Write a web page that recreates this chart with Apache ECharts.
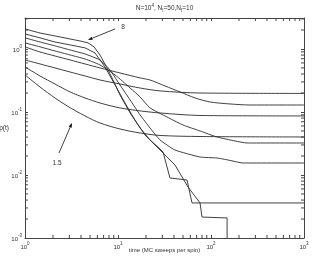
<!DOCTYPE html>
<html><head><meta charset="utf-8">
<script src="https://cdn.jsdelivr.net/npm/echarts@6/dist/echarts.min.js"></script>
<style>html,body{margin:0;padding:0;background:#fff}#c{width:312px;height:257px}</style>
</head><body><div id="c"></div>
<script>
// ---- axis ticks ----
const xTicks = [1, 10, 100, 1000];
const yTicks = [0.001, 0.01, 0.1, 1];
const xMin = 1, xMax = 1000, yMin = 0.001, yMax = 3.1;
const minorMult = [2, 3, 4, 5, 6, 7, 8, 9];

// ---- curves (time, rho) ----
const t15 = [1, 1.45, 2.1, 2.83, 4.42, 6.4, 10.5, 17.3, 28.3, 76.2, 1000];
const r15 = [0.387, 0.249, 0.167, 0.125, 0.0865, 0.0669, 0.0537, 0.0464, 0.0424, 0.0408, 0.0401];
const t2 = [1, 1.45, 2.1, 3.05, 4.42, 6.4, 10.5, 17.3, 28.3, 76.2, 1000];
const r2 = [0.518, 0.373, 0.278, 0.208, 0.167, 0.139, 0.116, 0.104, 0.0964, 0.088, 0.0865];
const t3 = [1, 1.45, 2.1, 3.05, 4.42, 6.4, 10.5, 17.3, 28.3, 76.2, 1000];
const r3 = [0.669, 0.578, 0.5, 0.431, 0.373, 0.322, 0.278, 0.24, 0.216, 0.2, 0.197];
const t4 = [1, 1.45, 2.1, 3.05, 4.42, 6.4, 10.5, 17.3, 22.1, 32, 46.4, 67.3, 97.5, 160, 263, 1000];
const r4 = [1.08, 0.896, 0.774, 0.669, 0.578, 0.5, 0.416, 0.347, 0.322, 0.259, 0.208, 0.167, 0.144, 0.134, 0.129, 0.129];
const t5 = [1, 1.45, 2.1, 3.05, 4.42, 6.4, 9.3, 13.5, 17.3, 22.1, 32, 50, 76.2, 116, 181, 244, 1000];
const r5 = [1.25, 1.08, 0.93, 0.803, 0.694, 0.557, 0.387, 0.24, 0.173, 0.116, 0.0865, 0.0622, 0.05, 0.0401, 0.0347, 0.0322, 0.0322];
const t6 = [1, 1.45, 2.1, 3.05, 4.42, 6.4, 8.2, 10.5, 13.5, 17.3, 22.1, 28.3, 41, 76.2, 116, 152, 221, 1000];
const r6 = [1.5, 1.29, 1.12, 0.964, 0.833, 0.669, 0.464, 0.268, 0.155, 0.0896, 0.0557, 0.036, 0.0249, 0.0193, 0.0186, 0.0173, 0.0155, 0.0155];
const t7 = [1, 1.45, 2.1, 3.05, 4.42, 5.66, 7.25, 9.3, 11.9, 15.2, 19.5, 25, 32, 41, 56.6, 76.2, 80, 149, 149];
const r7 = [1.73, 1.5, 1.29, 1.16, 1.04, 0.865, 0.518, 0.268, 0.139, 0.0746, 0.0431, 0.0299, 0.0208, 0.0144, 0.00645, 0.0036, 0.00215, 0.00208, 0.0001];
const t8 = [1, 1.45, 2.1, 3.05, 3.9, 4.76, 5.52, 6.4, 7.43, 8.62, 10.5, 13.5, 17.3, 22.1, 26.9, 30.5, 36.2, 55.2, 62.5, 1000];
const r8 = [2.08, 1.79, 1.61, 1.44, 1.34, 1.25, 1.08, 0.803, 0.537, 0.347, 0.186, 0.0964, 0.0557, 0.036, 0.0278, 0.0232, 0.00896, 0.00833, 0.0036, 0.0036];

const curveNames = ['1.5', '2', '3', '4', '5', '6', '7', '8'];
const curveT = [t15, t2, t3, t4, t5, t6, t7, t8];
const curveR = [r15, r2, r3, r4, r5, r6, r7, r8];
const curveSmooth = [0.3, 0.3, 0.3, 0.25, 0.2, 0.15, false, false];

// ---- annotations ----
const annotText = ['8', '1.5'];
const annotTextT = [11.3, 2.21];
const annotTextR = [2.23, 0.0155];
const arrowFromT = [9.3, 2.32];
const arrowFromR = [2.08, 0.0223];
const arrowToT = [4.76, 3.2];
const arrowToR = [1.39, 0.0669];

const FONT = 'Liberation Sans, Arial, Helvetica, sans-serif';
const INK = '#2b2b2b';
const AX = '#444';

function powLabel(v) {
  const l = Math.log10(v);
  const e = Math.round(l);
  if (Math.abs(l - e) > 1e-6) return '';
  return '{b|10}{e|' + e + '}';
}
const labelRich = {
  b: { fontSize: 6, fontFamily: FONT, color: '#333', lineHeight: 9, verticalAlign: 'bottom' },
  e: { fontSize: 4.5, fontFamily: FONT, color: '#333', lineHeight: 9, verticalAlign: 'top' }
};

const axisBase = {
  type: 'log', logBase: 10,
  axisLine: { show: true, onZero: false, lineStyle: { color: AX, width: 1 } },
  axisTick: { show: true, inside: true, length: 3, lineStyle: { color: AX, width: 1 } },
  splitLine: { show: false },
  minorTick: { show: false }, minorSplitLine: { show: false }
};

const series = curveNames.map((n, i) => ({
  name: n, type: 'line', xAxisIndex: 0, yAxisIndex: 0,
  data: curveT[i].map((t, j) => [t, curveR[i][j]]),
  showSymbol: false, symbol: 'none', smooth: curveSmooth[i],
  lineStyle: { color: INK, width: 0.9 }, clip: true, silent: true, animation: false
}));

// minor ticks on all four sides
const tickData = [];
xTicks.slice(0, -1).forEach(d => minorMult.forEach(m => tickData.push([d * m, yMin, 0])));
yTicks.forEach(d => minorMult.forEach(m => { if (d * m < yMax) tickData.push([xMin, d * m, 1]); }));
series.push({
  type: 'custom', silent: true, animation: false, clip: false, xAxisIndex: 0, yAxisIndex: 0,
  data: tickData,
  renderItem: function (params, api) {
    const k = api.value(2), L = 3;
    let lines;
    if (k === 0) {
      const a = api.coord([api.value(0), yMin]), b = api.coord([api.value(0), yMax]);
      lines = [[a[0], a[1], a[0], a[1] - L], [b[0], b[1], b[0], b[1] + L]];
    } else {
      const a = api.coord([xMin, api.value(1)]), b = api.coord([xMax, api.value(1)]);
      lines = [[a[0], a[1], a[0] + L, a[1]], [b[0], b[1], b[0] - L, b[1]]];
    }
    return { type: 'group', children: lines.map(l => ({ type: 'line', shape: { x1: l[0], y1: l[1], x2: l[2], y2: l[3] }, style: { stroke: AX, lineWidth: 1 } })) };
  }
});

// arrows
series.push({
  type: 'custom', silent: true, animation: false, clip: false, xAxisIndex: 0, yAxisIndex: 0,
  dimensions: ['x1', 'y1', 'x2', 'y2'],
  encode: { x: [0, 2], y: [1, 3] },
  data: arrowFromT.map((t, i) => [t, arrowFromR[i], arrowToT[i], arrowToR[i]]),
  renderItem: function (params, api) {
    const p1 = api.coord([api.value(0), api.value(1)]);
    const p2 = api.coord([api.value(2), api.value(3)]);
    const dx = p2[0] - p1[0], dy = p2[1] - p1[1], len = Math.hypot(dx, dy);
    const ux = dx / len, uy = dy / len, nx = -uy, ny = ux;
    const H = 4.5, W = 1.7;
    const bx = p2[0] - ux * H, by = p2[1] - uy * H;
    return { type: 'group', children: [
      { type: 'line', shape: { x1: p1[0], y1: p1[1], x2: bx, y2: by }, style: { stroke: INK, lineWidth: 0.9 } },
      { type: 'polygon', shape: { points: [[p2[0], p2[1]], [bx + nx * W, by + ny * W], [bx - nx * W, by - ny * W]] }, style: { fill: '#111' } }
    ] };
  }
});

// annotation labels
series.push({
  type: 'custom', silent: true, animation: false, clip: false, xAxisIndex: 0, yAxisIndex: 0,
  data: annotTextT.map((t, i) => [t, annotTextR[i]]),
  renderItem: function (params, api) {
    const p = api.coord([api.value(0), api.value(1)]);
    return { type: 'text', x: p[0], y: p[1], style: { text: annotText[params.dataIndex], fill: '#333', fontSize: 6.5, fontFamily: FONT, align: 'center', verticalAlign: 'middle' } };
  }
});

const chart = echarts.init(document.getElementById('c'), null, { renderer: 'canvas' });
chart.setOption({
  animation: false,
  backgroundColor: '#fff',
  grid: { left: 25, right: 8, top: 18, bottom: 19, containLabel: false, outerBoundsMode: 'none' },
  xAxis: [
    Object.assign({}, axisBase, {
      min: xMin, max: xMax, position: 'bottom',
      axisLabel: { formatter: powLabel, margin: 3, rich: labelRich, fontSize: 6, fontFamily: FONT, color: '#333' },
      name: 'time (MC sweeps per spin)', nameLocation: 'middle', nameGap: 9, nameMoveOverlap: false,
      nameTextStyle: { fontSize: 6, fontFamily: FONT, color: '#333' }
    }),
    Object.assign({}, axisBase, { min: xMin, max: xMax, position: 'top', axisLabel: { show: false } })
  ],
  yAxis: [
    Object.assign({}, axisBase, {
      min: yMin, max: yMax, position: 'left',
      axisLabel: { formatter: powLabel, margin: 3, rich: labelRich, fontSize: 6, fontFamily: FONT, color: '#333' },
      name: 'ρ(t)', nameLocation: 'middle', nameRotate: 0, nameGap: 16, nameMoveOverlap: false,
      nameTextStyle: { fontSize: 6.5, fontFamily: FONT, color: '#333', padding: [0, 0, 8, 0] }
    }),
    Object.assign({}, axisBase, { min: yMin, max: yMax, position: 'right', axisLabel: { show: false } })
  ],
  graphic: [{
    type: 'text', x: 164.5, y: 8,
    style: {
      text: '{n|N=10}{p|4}{n|, N}{s|I}{n|=50,N}{s|f}{n|=10}',
      align: 'center', verticalAlign: 'middle',
      rich: {
        n: { fontSize: 6.5, fontFamily: FONT, fill: '#333', lineHeight: 10, verticalAlign: 'middle' },
        p: { fontSize: 4.5, fontFamily: FONT, fill: '#333', lineHeight: 10, verticalAlign: 'top' },
        s: { fontSize: 4.5, fontFamily: FONT, fill: '#333', lineHeight: 10, verticalAlign: 'bottom' }
      }
    }
  }],
  series: series
});
</script>
</body></html>
